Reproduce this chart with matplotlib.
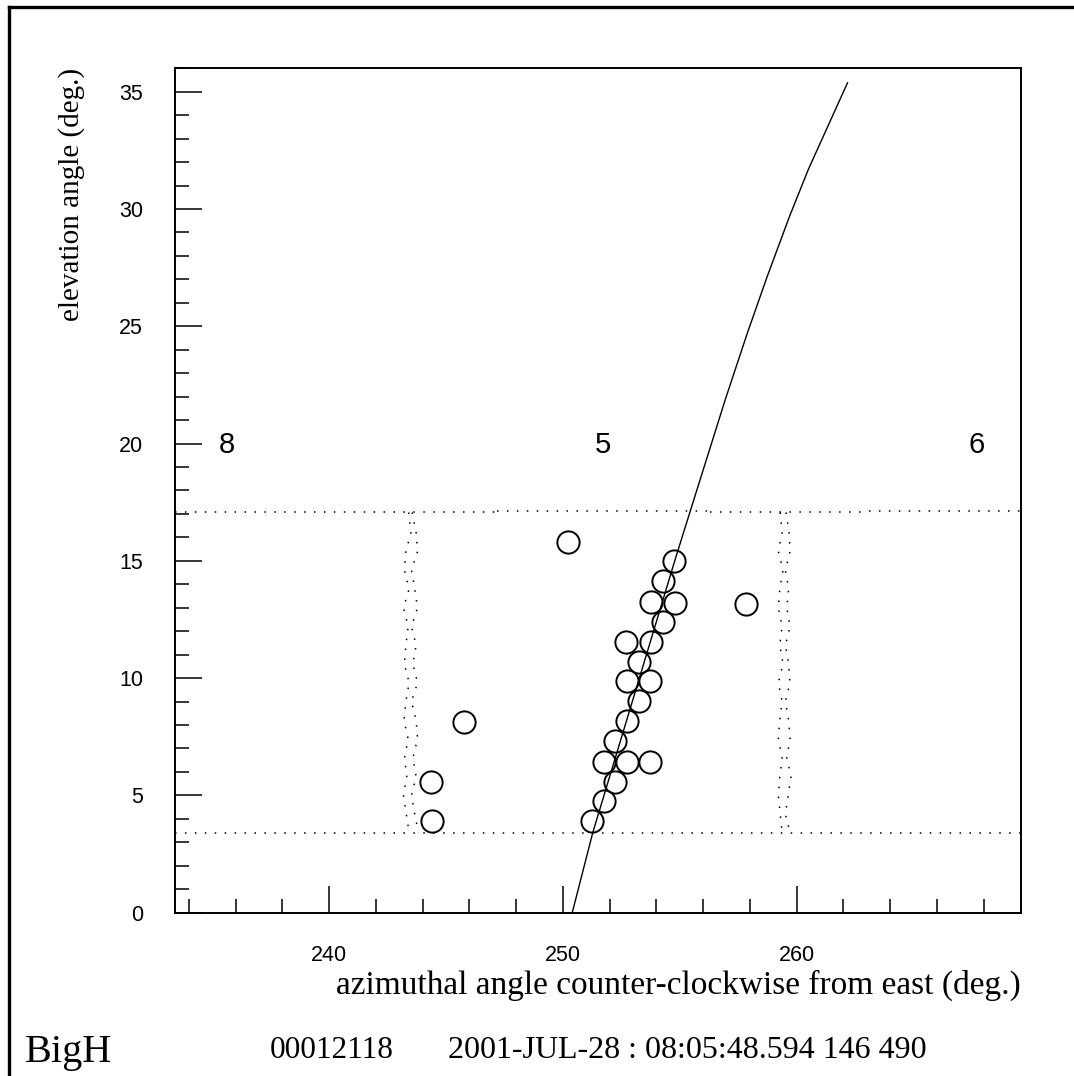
import numpy as np
import matplotlib
matplotlib.use('Agg')
from matplotlib import pyplot as plt
from matplotlib.lines import Line2D
from matplotlib.ticker import MultipleLocator

# hit tubes: azimuth / elevation (deg.)
hit_az = [250.21, 254.77, 254.27, 253.75, 254.80, 254.27, 252.71, 253.78,
          253.25, 252.74, 253.73, 253.25, 252.74, 245.76, 252.25, 251.74,
          252.74, 253.73, 252.21, 244.35, 251.74, 244.38, 251.25, 257.84]
hit_el = [15.82, 14.99, 14.14, 13.25, 13.20, 12.40, 11.54, 11.54,
          10.69, 9.86, 9.86, 9.03, 8.15, 8.11, 7.30, 6.43,
          6.43, 6.43, 5.58, 5.58, 4.74, 3.89, 3.89, 13.18]

# shower-detector plane track
track_az = [250.40, 251.28, 254.85, 255.45, 256.95, 257.90, 258.75,
            259.70, 260.50, 262.18]
track_el = [0.0, 3.42, 15.21, 17.12, 21.88, 24.73, 27.14,
            29.69, 31.68, 35.38]

# mirror field-of-view edges
fov_top_x = [[233.4, 247.2], [247.2, 256.3], [256.3, 263.1], [263.1, 269.6]]
fov_top_y = [17.06, 17.14, 17.06, 17.13]
fov_bottom_y = 3.40
edge_el = [17.06, 16.2, 15.4, 14.6, 13.8, 13.0, 12.2, 11.4, 10.6, 9.8,
           9.0, 8.2, 7.4, 6.6, 5.8, 5.0, 4.2, 3.42]
edge_85_a = [243.40, 243.50, 243.28, 243.22, 243.42, 243.18, 243.38, 243.28, 243.22,
             243.42, 243.28, 243.20, 243.38, 243.22, 243.32, 243.18, 243.30, 243.42]
edge_85_b = [243.55, 243.72, 243.78, 243.52, 243.66, 243.78, 243.52, 243.72, 243.58,
             243.78, 243.52, 243.72, 243.78, 243.58, 243.72, 243.52, 243.66, 243.82]
edge_56_a = [259.30, 259.38, 259.22, 259.42, 259.28, 259.22, 259.38, 259.28, 259.42,
             259.22, 259.38, 259.28, 259.22, 259.38, 259.28, 259.22, 259.30, 259.38]
edge_56_b = [259.55, 259.68, 259.72, 259.52, 259.66, 259.58, 259.72, 259.52, 259.66,
             259.72, 259.52, 259.66, 259.72, 259.58, 259.76, 259.64, 259.52, 259.72]

mirror_ids = ['8', '5', '6']
mirror_az = [235.64, 251.70, 267.71]
mirror_el = 19.92

fig = plt.figure(figsize=(10.74, 10.76), dpi=100)
ax = fig.add_axes([0.1629, 0.1518, 0.7877, 0.7848])

dot = dict(color='black', lw=1.1, dashes=(1, 5.5))
for xs, y in zip(fov_top_x, fov_top_y):
    ax.plot(xs, [y, y], **dot)
ax.plot([233.4, 269.6], [fov_bottom_y, fov_bottom_y], **dot)
for xs in (edge_85_a, edge_85_b, edge_56_a, edge_56_b):
    ax.plot(xs, edge_el, **dot)

ax.plot(track_az, track_el, color='black', lw=1.0)
ax.plot(hit_az, hit_el, 'o', ms=16, mfc='none', mec='black', mew=1.4)

for s, x in zip(mirror_ids, mirror_az):
    ax.text(x, mirror_el, s, ha='center', va='center', fontsize=21,
            family='Liberation Sans')

ax.set_xlim(233.4, 269.6)
ax.set_ylim(0, 36.0)
ax.xaxis.set_major_locator(MultipleLocator(10))
ax.xaxis.set_minor_locator(MultipleLocator(2))
ax.yaxis.set_major_locator(MultipleLocator(5))
ax.yaxis.set_minor_locator(MultipleLocator(1))
ax.tick_params(which='both', direction='in', top=False, right=False,
               width=1.1, labelsize=15.5)
ax.tick_params(which='major', length=19.4, pad=23)
ax.tick_params(which='minor', length=10)
for lab in ax.get_xticklabels() + ax.get_yticklabels():
    lab.set_family('Liberation Sans')
for sp in ax.spines.values():
    sp.set_linewidth(1.4)

fig.text(72 / 1074, 1 - 68 / 1076, 'elevation angle (deg.)', rotation=90,
         ha='center', va='top', fontsize=21, family='Liberation Serif')
fig.text(1021 / 1074, 1 - 985 / 1076,
         'azimuthal angle counter-clockwise from east (deg.)',
         ha='right', va='center', fontsize=24, family='Liberation Serif')

fig.text(25 / 1074, 1 - 1062 / 1076, 'BigH', ha='left', va='baseline',
         fontsize=29, family='Liberation Serif')
fig.text(270 / 1074, 1 - 1058 / 1076, '00012118', ha='left', va='baseline',
         fontsize=22.5, family='Liberation Serif')
fig.text(448 / 1074, 1 - 1058 / 1076, '2001-JUL-28 : 08:05:48.594 146 490',
         ha='left', va='baseline', fontsize=23, family='Liberation Serif')

# page frame (top and left edges)
fig.add_artist(Line2D([9 / 1074, 1.0], [1 - 7 / 1076, 1 - 7 / 1076],
                      transform=fig.transFigure, color='black', lw=2.4))
fig.add_artist(Line2D([9 / 1074, 9 / 1074], [0.0, 1 - 7 / 1076],
                      transform=fig.transFigure, color='black', lw=2.4))

fig.savefig('out.png', dpi=100, facecolor='white')
